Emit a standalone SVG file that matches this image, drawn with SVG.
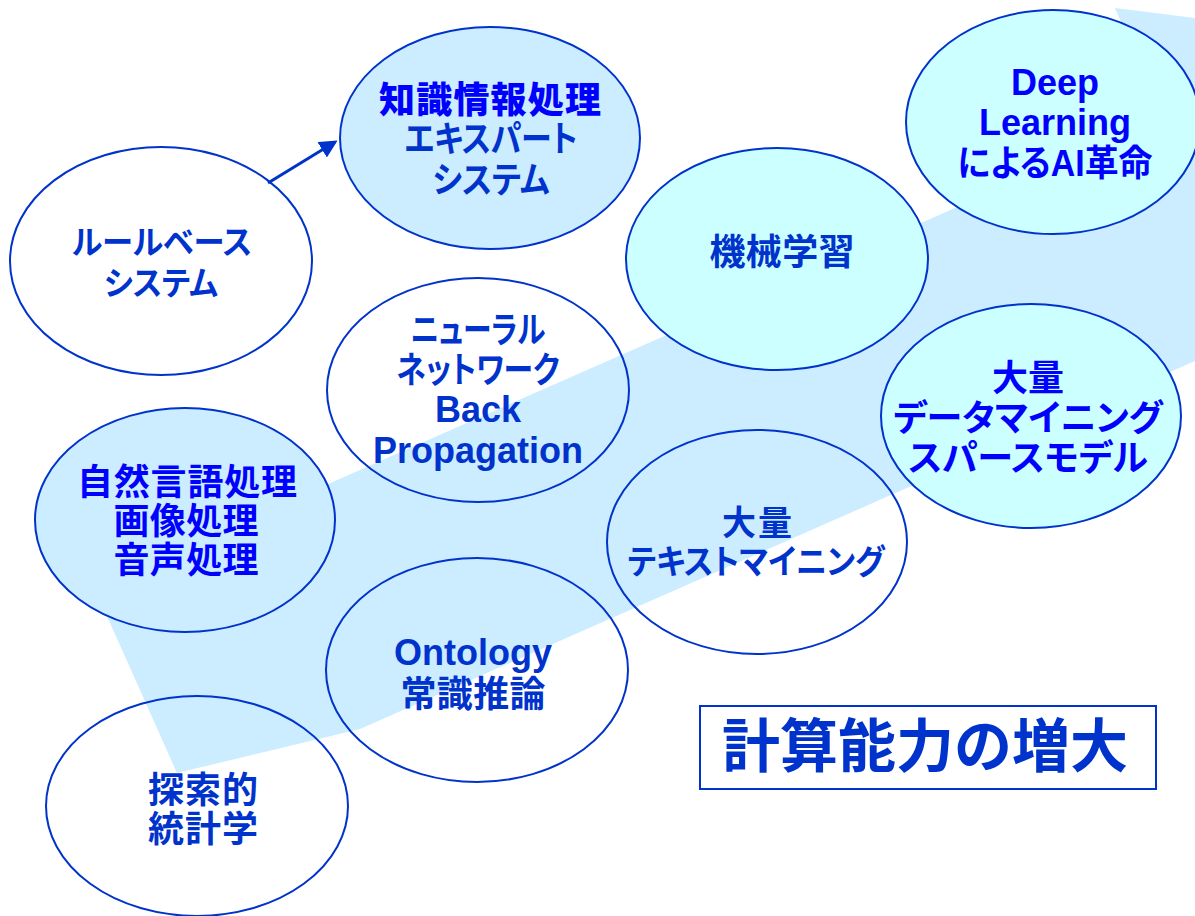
<svg xmlns="http://www.w3.org/2000/svg" width="1195" height="916" viewBox="0 0 1195 916">
<style>
.band{fill:#CCECFF;stroke:none}
.node{stroke:#0033CC;stroke-width:2}
.open{fill:none}
.blue{fill:#CCECFF}
.cyan{fill:#CCFFFF}
text{font-family:"Liberation Sans","Noto Sans CJK JP",sans-serif;font-weight:bold;text-anchor:middle;font-size:36px}
.p{font-feature-settings:"palt"}
.t1{fill:#0033CC}
.t2{fill:#0000FF}
.conn{stroke:#0033CC;stroke-width:3;fill:none}
</style>
<defs>
<marker id="ah" markerWidth="6" markerHeight="6" refX="5" refY="3" orient="auto" markerUnits="strokeWidth">
<path d="M0,0 L6,3 L0,6 Z" fill="#0033CC"/>
</marker>
</defs>
<rect x="0" y="0" width="1195" height="916" fill="#FFFFFF"/>
<polygon class="band" points="94,587 1162,117 1115,8 1195,18 1400,44 1400,271 1195,361 580,632 360,729 177,773"/>

<g id="connectors">
<line class="conn" x1="268" y1="183" x2="335" y2="142" marker-end="url(#ah)"/>
</g>

<g id="rule">
<ellipse class="node open" cx="161" cy="261" rx="151" ry="114"/>
<text class="t1 p" x="162" y="254" style="font-size:33px" textLength="180" lengthAdjust="spacingAndGlyphs">ルールベース</text>
<text class="t1 p" x="161" y="295" style="font-size:33px" textLength="114" lengthAdjust="spacingAndGlyphs">システム</text>
</g>

<g id="knowledge">
<ellipse class="node blue" cx="490" cy="138" rx="150" ry="111"/>
<text class="t2" x="490" y="113" textLength="222" lengthAdjust="spacing" style="font-weight:900">知識情報処理</text>
<text class="t1 p" x="491" y="152" textLength="173" lengthAdjust="spacingAndGlyphs">エキスパート</text>
<text class="t1 p" x="491" y="193" textLength="117" lengthAdjust="spacingAndGlyphs">システム</text>
</g>

<g id="deep">
<ellipse class="node cyan" cx="1053" cy="122" rx="147" ry="112"/>
<text class="t2" x="1055" y="95">Deep</text>
<text class="t2" x="1055" y="135">Learning</text>
<text class="t2 p" x="1055" y="176" textLength="195" lengthAdjust="spacingAndGlyphs">によるAI革命</text>
</g>

<g id="ml">
<ellipse class="node cyan" cx="777" cy="259" rx="151" ry="111"/>
<text class="t1" x="782" y="265" textLength="145" lengthAdjust="spacing">機械学習</text>
</g>

<g id="neural">
<ellipse class="node open" cx="478" cy="390" rx="151" ry="112"/>
<text class="t1 p" x="478" y="343" textLength="135" lengthAdjust="spacingAndGlyphs">ニューラル</text>
<text class="t1 p" x="478" y="383" textLength="163" lengthAdjust="spacingAndGlyphs">ネットワーク</text>
<text class="t1" x="478" y="422">Back</text>
<text class="t1" x="478" y="463">Propagation</text>
</g>

<g id="datamining">
<ellipse class="node cyan" cx="1031" cy="416" rx="150" ry="112"/>
<text class="t2" x="1028" y="391" textLength="72" lengthAdjust="spacing">大量</text>
<text class="t2 p" x="1028" y="431">データマイニング</text>
<text class="t2 p" x="1028" y="471">スパースモデル</text>
</g>

<g id="nlp">
<ellipse class="node blue" cx="185" cy="520" rx="150" ry="112"/>
<text class="t2" x="187" y="495" textLength="220" lengthAdjust="spacing">自然言語処理</text>
<text class="t2" x="186" y="534" textLength="145" lengthAdjust="spacing">画像処理</text>
<text class="t2" x="186" y="573" textLength="145" lengthAdjust="spacing">音声処理</text>
</g>

<g id="textmining">
<ellipse class="node open" cx="757" cy="542" rx="150" ry="112"/>
<text class="t1" x="757" y="535" style="font-size:34px" textLength="70" lengthAdjust="spacing">大量</text>
<text class="t1 p" x="756" y="574" style="font-size:34px" textLength="257" lengthAdjust="spacingAndGlyphs">テキストマイニング</text>
</g>

<g id="ontology">
<ellipse class="node open" cx="477" cy="670" rx="151" ry="112"/>
<text class="t1" x="473" y="665">Ontology</text>
<text class="t1" x="473" y="707" textLength="145" lengthAdjust="spacing">常識推論</text>
</g>

<g id="explore">
<ellipse class="node open" cx="197" cy="806" rx="151" ry="110"/>
<text class="t1" x="203" y="803" textLength="110" lengthAdjust="spacing">探索的</text>
<text class="t1" x="203" y="842" textLength="110" lengthAdjust="spacing">統計学</text>
</g>

<g id="compute">
<rect x="700" y="706" width="456" height="83" fill="#FFFFFF" stroke="#0033CC" stroke-width="2"/>
<text class="t1" x="925" y="767" style="font-size:58px" textLength="406" lengthAdjust="spacing">計算能力の増大</text>
</g>
</svg>
